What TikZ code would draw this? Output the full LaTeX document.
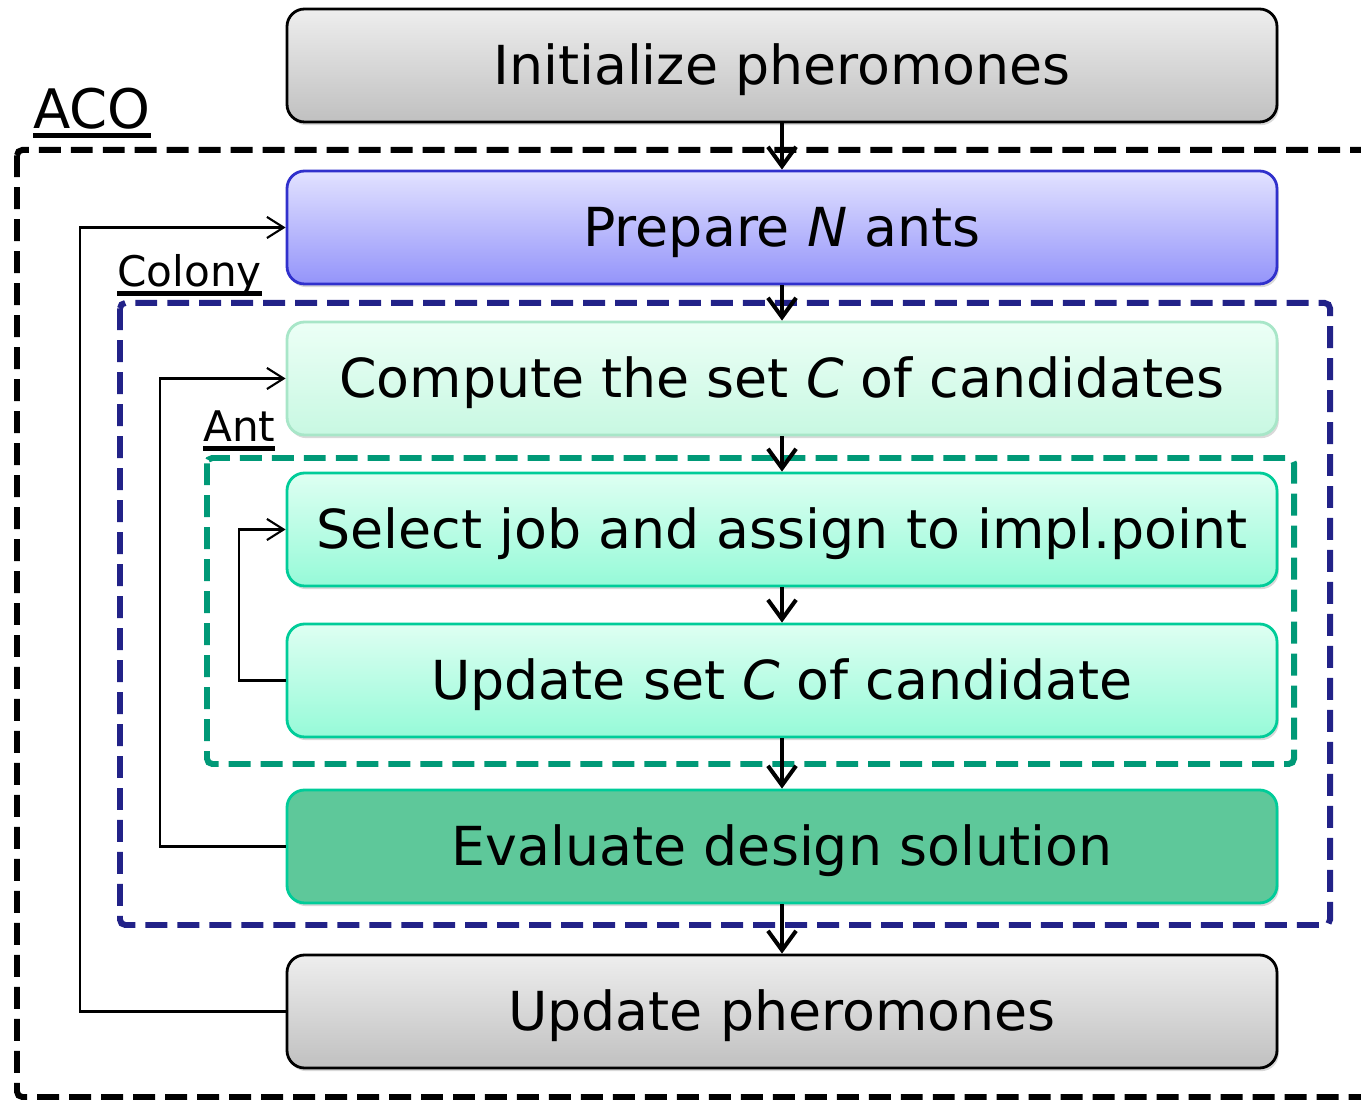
\documentclass[tikz,border=0pt]{standalone}
\usepackage{fontspec}
\setmainfont{DejaVu Sans}
\usetikzlibrary{arrows.meta,shadows}

\definecolor{colonyblue}{RGB}{34,34,136}
\definecolor{antgreen}{RGB}{0,153,119}
\definecolor{greytop}{RGB}{238,238,238}
\definecolor{greybot}{RGB}{192,192,192}
\definecolor{preptop}{RGB}{226,226,255}
\definecolor{prepbot}{RGB}{148,148,250}
\definecolor{prepline}{RGB}{48,48,204}
\definecolor{comptop}{RGB}{236,255,246}
\definecolor{compbot}{RGB}{200,248,226}
\definecolor{compline}{RGB}{168,230,200}
\definecolor{anttop}{RGB}{222,255,242}
\definecolor{antbot}{RGB}{150,250,216}
\definecolor{antline}{RGB}{0,204,153}
\definecolor{evalfill}{RGB}{94,200,154}

% underlined group title
\newcommand{\grouptitle}[1]{\sbox0{#1}\usebox0\llap{\rule[-5pt]{\wd0}{2.6pt}}}

\begin{document}
\begin{tikzpicture}[x=1cm,y=1cm]
\tikzset{
  stepnode/.style={draw,line width=1.6pt,rounded corners=10pt,minimum width=19.8cm,minimum height=2.26cm,inner sep=0pt,text height=28.5pt,text depth=7pt,font=\fontsize{30.6}{36}\selectfont,drop shadow={shadow xshift=1pt,shadow yshift=-1.8pt,opacity=0.3}},
  greystep/.style={stepnode,draw=black,top color=greytop,bottom color=greybot},
  prepstep/.style={stepnode,draw=prepline,top color=preptop,bottom color=prepbot},
  compstep/.style={stepnode,draw=compline,top color=comptop,bottom color=compbot},
  antstep/.style={stepnode,draw=antline,top color=anttop,bottom color=antbot},
  evalstep/.style={stepnode,draw=antline,fill=evalfill},
  groupbox/.style={line width=3.4pt,dash pattern=on 12.5pt off 5.7pt,rounded corners=3pt},
  grouplabel/.style={anchor=base west,inner sep=0pt},
  flow/.style={-{Straight Barb[length=11pt,width=16pt]},line width=2.3pt},
  loopback/.style={-{Straight Barb[length=9.5pt,width=12pt]},line width=1.2pt}
}
\useasboundingbox (0,0) rectangle (27.22,22);
% dashed groups
\draw[groupbox,black] (0.34,19.00) rectangle (27.70,0.06);
\draw[groupbox,colonyblue] (2.40,15.94) rectangle (26.60,3.50);
\draw[groupbox,antgreen] (4.14,12.84) rectangle (25.88,6.72);
\node[grouplabel,font=\fontsize{31}{36}\selectfont] (l_aco) at (0.66,19.42) {\grouptitle{ACO}};
\node[grouplabel,font=\fontsize{24}{30}\selectfont] (l_colony) at (2.34,16.26) {\grouptitle{Colony}};
\node[grouplabel,font=\fontsize{24}{30}\selectfont] (l_ant) at (4.06,13.16) {\grouptitle{Ant}};
% steps
\node[greystep] (n_init) at (15.64,20.69) {Initialize pheromones};
\node[prepstep] (n_prep) at (15.64,17.45) {Prepare \textit{N} ants};
\node[compstep] (n_comp) at (15.64,14.43) {Compute the set \textit{C} of candidates};
\node[antstep] (n_sel) at (15.64,11.41) {Select job and assign to impl.point};
\node[antstep] (n_upd) at (15.64,8.39) {Update set \textit{C} of candidate};
\node[evalstep] (n_eval) at (15.64,5.07) {Evaluate design solution};
\node[greystep] (n_pher) at (15.64,1.77) {Update pheromones};
\draw[flow] (n_init) -- (n_prep);
\draw[flow] (n_prep) -- (n_comp);
\draw[flow] (n_comp) -- (n_sel);
\draw[flow] (n_sel) -- (n_upd);
\draw[flow] (n_upd) -- (n_eval);
\draw[flow] (n_eval) -- (n_pher);
% loops back
\draw[loopback] (n_pher.west) -| (1.60,17.45) -- (n_prep.west);
\draw[loopback] (n_eval.west) -| (3.20,14.43) -- (n_comp.west);
\draw[loopback] (n_upd.west) -| (4.78,11.41) -- (n_sel.west);
\end{tikzpicture}
\end{document}
